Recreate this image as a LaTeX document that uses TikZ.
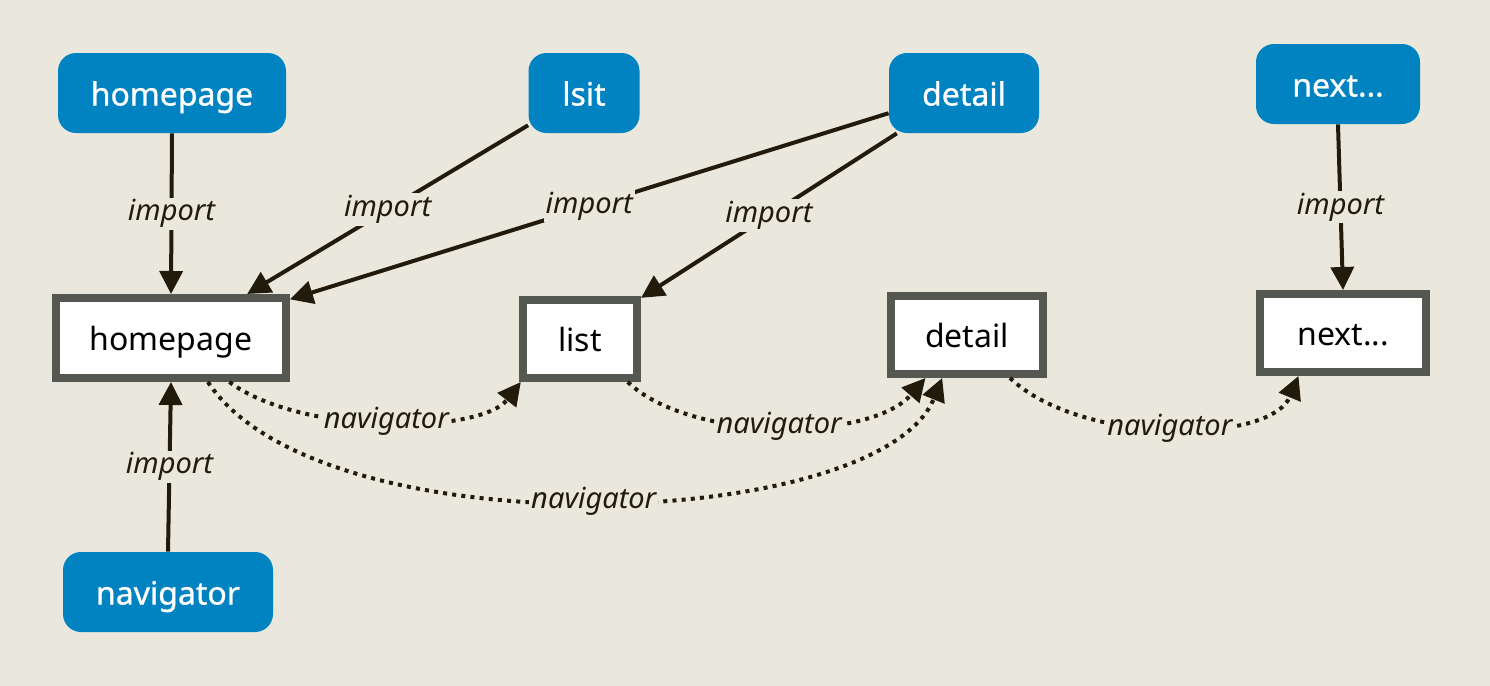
\documentclass[tikz,border=0pt]{standalone}
\usepackage{fontspec}
\setmainfont{Noto Sans}
\newfontfamily\bluefont[FakeBold=0.8]{Noto Sans}
\usetikzlibrary{arrows.meta}
\definecolor{bgc}{HTML}{EAE8DC}
\definecolor{blu}{HTML}{0083C0}
\definecolor{brd}{HTML}{545850}
\definecolor{lnc}{HTML}{221A0A}
\tikzset{
  bluebox/.style={fill=blu, rounded corners=9pt, text=white, minimum height=40pt,
    font=\bluefont\fontsize{16}{19}\selectfont, inner sep=0pt, text height=12.5pt, text depth=0pt},
  whitebox/.style={draw=brd, line width=4pt, fill=white, minimum height=39pt,
    font=\fontsize{16}{19}\selectfont, inner sep=0pt, text=black, text height=12pt, text depth=0pt},
  imp/.style={draw=lnc, line width=2pt, -{Triangle[length=11.5pt,width=11.5pt]}},
  nav/.style={draw=lnc, line width=2pt, dash pattern=on 2pt off 2.6pt, -{Triangle[length=11.5pt,width=11.5pt]}},
  lbl/.style={fill=bgc, inner sep=1pt, text=lnc, font=\fontsize{14.5}{17}\selectfont\itshape}
}
\begin{document}
\begin{tikzpicture}[x=0.5pt,y=-0.5pt]
\fill[bgc] (0,0) rectangle (1490,686);
\useasboundingbox (0,0) rectangle (1490,686);
% blue nodes
\node[bluebox, minimum width=114pt] (bhome) at (172,93) {homepage};
\node[bluebox, minimum width=55.5pt] (blsit) at (584,93) {lsit};
\node[bluebox, minimum width=75pt] (bdetail) at (964,93) {detail};
\node[bluebox, minimum width=82pt] (bnext) at (1338,84) {next...};
\node[bluebox, minimum width=105pt] (bnav) at (168,592) {navigator};
% white boxes
\node[whitebox, minimum width=115pt, minimum height=40pt] (hpb) at (171,338) {homepage};
\node[whitebox, minimum width=57pt] (listb) at (580,339) {list};
\node[whitebox, minimum width=76pt] (detailb) at (967,335) {detail};
\node[whitebox, minimum width=83pt] (nextb) at (1343,333) {next...};
% import edges
\draw[imp] (bhome.south) -- node[lbl]{import} (hpb.north);
\draw[imp] (blsit.210) -- node[lbl]{import} (hpb.30);
\draw[imp] (bdetail.195.6) -- node[lbl]{import} (hpb.18);
\draw[imp] (bdetail.211) -- node[lbl]{import} (listb.34.4);
\draw[imp] (bnext.south) -- node[lbl]{import} (nextb.north);
\draw[imp] (bnav.north) -- node[lbl]{import} (hpb.south);
% navigator edges
\draw[nav] (hpb.-37) .. controls (300,435) and (480,435) .. node[lbl]{navigator} (listb.216);
\draw[nav] (hpb.-50) .. controls (320,552) and (880,532) .. node[lbl]{navigator} (detailb.240);
\draw[nav] (listb.-42) .. controls (690,442) and (870,442) .. node[lbl]{navigator} (detailb.226);
\draw[nav] (detailb.-45) .. controls (1080,445) and (1270,445) .. node[lbl]{navigator} (nextb.224);
\end{tikzpicture}
\end{document}
